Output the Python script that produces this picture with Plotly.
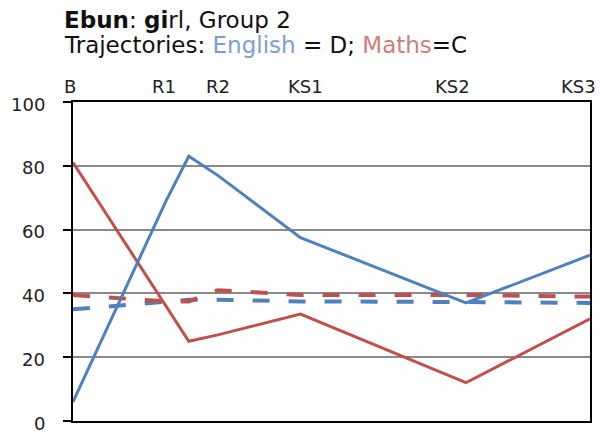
import plotly.graph_objects as go

# Assessment stages and the age (years) at which each one sits on the x axis
stage_labels = ["B", "R1", "R2", "KS1", "KS2", "KS3"]
stage_age = [1.5, 3.75, 5.0, 7.0, 11.0, 14.0]

# Ages of each recorded score
ages = [1.5, 3.75, 4.3, 5.0, 7.0, 11.0, 14.0]

# Attainment scores (solid) and trajectory targets (dashed)
english = [6, 69, 83, 77, 57.5, 37, 52]
maths = [81, 36, 25, 27, 33.5, 12, 32]
english_traj = [35, 37.5, 38, 38, 37.5, 37.3, 37]
maths_traj = [39.5, 37.5, 37.5, 41, 39.5, 39.5, 39]

y_ticks = [0, 20, 40, 60, 80, 100]

BLUE = "#4f81bd"
RED = "#c0504d"

W, H = 603, 434
M_L, M_R, M_T, M_B = 73, 13, 102, 13
PLOT_H = H - M_T - M_B


def paper_y(px):
    """Convert a pixel row (from the top of the page) to paper y."""
    return (H - M_B - px) / PLOT_H


def paper_x(px):
    return (px - M_L) / (W - M_L - M_R)


fig = go.Figure()
fig.add_trace(go.Scatter(x=ages, y=english_traj, mode="lines",
                         line=dict(color=BLUE, width=4, dash="17px,19px")))
fig.add_trace(go.Scatter(x=ages, y=maths_traj, mode="lines",
                         line=dict(color=RED, width=4, dash="17px,19px")))
fig.add_trace(go.Scatter(x=ages, y=maths, mode="lines",
                         line=dict(color=RED, width=3)))
fig.add_trace(go.Scatter(x=ages, y=english, mode="lines",
                         line=dict(color=BLUE, width=3)))

# Stage names along the top of the plot
shifts = {"B": -3, "R1": -2, "R2": 0, "KS1": 5, "KS2": -13, "KS3": 8}
for lab, a in zip(stage_labels, stage_age):
    anchor = "right" if lab == "KS3" else "center"
    fig.add_annotation(x=a, y=1, xref="x", yref="paper", text=lab,
                       showarrow=False, xanchor=anchor, yanchor="bottom",
                       xshift=shifts[lab], yshift=3,
                       font=dict(family="DejaVu Sans", size=18, color="#222"))

# Y tick labels, set a little further out from the tick marks
for v in y_ticks:
    fig.add_annotation(x=paper_x(47), y=v, xref="paper", yref="y",
                       xanchor="right", yanchor="middle", showarrow=False,
                       yshift=-2, text=str(v),
                       font=dict(family="DejaVu Sans", size=18, color="#222"))

# Two-line heading
title_font = dict(family="DejaVu Sans", size=23, color="#111")
fig.add_annotation(x=paper_x(62), y=paper_y(5), xref="paper", yref="paper",
                   xanchor="left", yanchor="top", showarrow=False,
                   text="<b>Ebun</b>: <b>gi</b>rl, Group 2", font=title_font)
fig.add_annotation(x=paper_x(62), y=paper_y(30), xref="paper", yref="paper",
                   xanchor="left", yanchor="top", showarrow=False,
                   text=("Trajectories: "
                         "<span style='color:#7aa0d4'>English</span> = D; "
                         "<span style='color:#d07d7b'>Maths</span>=C"),
                   font=title_font)

fig.update_layout(
    width=W, height=H,
    margin=dict(l=M_L, r=M_R, t=M_T, b=M_B),
    paper_bgcolor="white", plot_bgcolor="white",
    showlegend=False,
    xaxis=dict(range=[stage_age[0], stage_age[-1]], showgrid=False,
               showticklabels=False, ticks="", zeroline=False,
               automargin=False,
               showline=True, linecolor="black", linewidth=2, mirror=True),
    yaxis=dict(range=[0, 100], tickvals=y_ticks, showgrid=True,
               gridcolor="#8a8a8a", gridwidth=1.5, zeroline=False,
               ticks="outside", ticklen=8, tickcolor="black", tickwidth=2,
               showticklabels=False, automargin=False,
               showline=True, linecolor="black", linewidth=2, mirror=True),
)

fig.write_html("out.html")
